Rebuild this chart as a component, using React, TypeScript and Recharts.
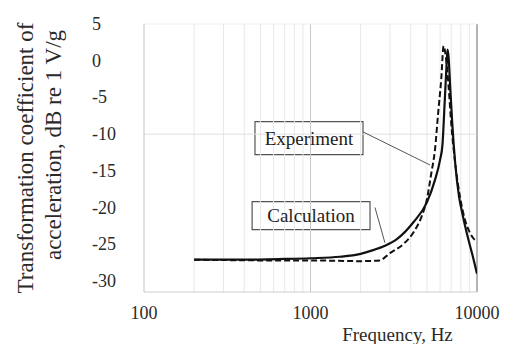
import { LineChart, Line, XAxis, YAxis, ReferenceLine, ReferenceArea } from 'recharts';

// Calculation (solid)
const calcFreq = [200, 400, 700, 1000, 1500, 2000, 2300, 2800, 3300, 4150, 5000, 5600, 6000, 6200, 6400, 6550, 6650, 6750, 6900, 7100, 7400, 7800, 8200, 8800, 9400, 10000];
const calcDb = [-27.1, -27.1, -27.0, -26.9, -26.7, -26.3, -25.9, -25.2, -24.3, -22.0, -19.3, -16.2, -13.5, -11.5, -5.5, -1.0, 1.5, 0.5, -3.5, -8.5, -14.0, -18.5, -21.0, -24.0, -26.5, -29.0];

// Experiment (dashed)
const expFreq = [200, 600, 1000, 2000, 2600, 3000, 3600, 4150, 4650, 5000, 5300, 5600, 5850, 6100, 6300, 6500, 6750, 7000, 7400, 7900, 8500, 9100, 9600, 10000];
const expDb = [-27.1, -27.2, -27.2, -27.3, -27.2, -26.2, -25.0, -23.4, -21.2, -18.9, -15.5, -12.0, -7.0, -2.5, 2.0, 0.5, -3.5, -8.5, -14.0, -18.5, -21.8, -23.5, -24.3, -24.5];

const xTicks = [100, 1000, 10000];
const yTicks = [5, 0, -5, -10, -15, -20, -25, -30];
const minorFreqs = [200, 300, 400, 500, 600, 700, 800, 900, 2000, 3000, 4000, 5000, 6000, 7000, 8000, 9000];

const calcData = calcFreq.map((f, i) => ({ f, db: calcDb[i] }));
const expData = expFreq.map((f, i) => ({ f, db: expDb[i] }));

const serif = '"Liberation Serif", "DejaVu Serif", serif';

const YTick = (props: any) => {
  const { x, y, payload } = props;
  return (
    <text x={x - 44} y={y} dy={6} textAnchor="start" fontFamily={serif} fontSize={18} fill="#2a2a2a">
      {payload.value}
    </text>
  );
};

const YTitle = (props: any) => {
  const vb = props.viewBox;
  const cy = vb.y + vb.height / 2;
  return (
    <g fontFamily={serif} fontSize={23} fill="#2a2a2a">
      <text x={25} y={cy} textAnchor="middle" dominantBaseline="central" transform={`rotate(-90 25 ${cy})`}>
        Transformation coefficient of
      </text>
      <text x={53} y={cy - 13} textAnchor="middle" dominantBaseline="central" transform={`rotate(-90 53 ${cy - 13})`}>
        acceleration, dB re 1 V/g
      </text>
    </g>
  );
};

export default function App() {
  return (
    <div style={{ width: 505, height: 344, background: '#fff' }}>
      <style>{`body{margin:0}`}</style>
      <LineChart width={505} height={344} margin={{ top: 24, right: 28, left: 92, bottom: 0 }}>
        <XAxis
          dataKey="f"
          type="number"
          scale="log"
          domain={[100, 10000]}
          ticks={xTicks}
          allowDataOverflow
          axisLine={{ stroke: '#cfcfcf' }}
          tickLine={false}
          tickMargin={8}
          height={52}
          tick={{ fontFamily: serif, fontSize: 18, fill: '#2a2a2a' }}
          label={{ value: 'Frequency, Hz', position: 'insideBottom', dx: 87, offset: 3, fontFamily: serif, fontSize: 19, fill: '#2a2a2a' }}
        />
        <YAxis
          dataKey="db"
          type="number"
          domain={[-31.5, 5]}
          ticks={yTicks}
          allowDataOverflow
          width={52}
          axisLine={{ stroke: '#c4c4c4' }}
          tickLine={false}
          tick={<YTick />}
          label={{ content: <YTitle /> }}
        />
        {minorFreqs.map((f) => (
          <ReferenceLine key={f} x={f} stroke="#e8e8e8" strokeWidth={1} />
        ))}
        <ReferenceLine x={1000} stroke="#c8c8c8" strokeWidth={1} />
        <ReferenceLine x={10000} stroke="#9a9a9a" strokeWidth={1.5} />
        <ReferenceLine y={5} stroke="#eeeeee" strokeWidth={1} />
        <ReferenceLine y={-10} stroke="#e0e0e0" strokeWidth={1} />

        <Line data={calcData} dataKey="db" type="monotone" stroke="#111" strokeWidth={2.2} dot={false} isAnimationActive={false} />
        <Line data={expData} dataKey="db" type="monotone" stroke="#111" strokeWidth={2} strokeDasharray="6 3" dot={false} isAnimationActive={false} />

        <ReferenceLine segment={[{ x: 2067, y: -9.7 }, { x: 5223, y: -14.2 }]} stroke="#555" strokeWidth={1} />
        <ReferenceLine segment={[{ x: 2440, y: -20.0 }, { x: 2800, y: -24.8 }]} stroke="#555" strokeWidth={1} />

        <ReferenceArea
          x1={464}
          x2={2067}
          y1={-12.8}
          y2={-8.3}
          fill="#fff"
          fillOpacity={1}
          stroke="#555"
          strokeWidth={1.2}
          label={{ value: 'Experiment', position: 'center', fontFamily: serif, fontSize: 19, fill: '#222' }}
        />
        <ReferenceArea
          x1={446}
          x2={2278}
          y1={-23.0}
          y2={-19.2}
          fill="#fff"
          fillOpacity={1}
          stroke="#555"
          strokeWidth={1.2}
          label={{ value: 'Calculation', position: 'center', fontFamily: serif, fontSize: 19, fill: '#222' }}
        />
      </LineChart>
    </div>
  );
}
